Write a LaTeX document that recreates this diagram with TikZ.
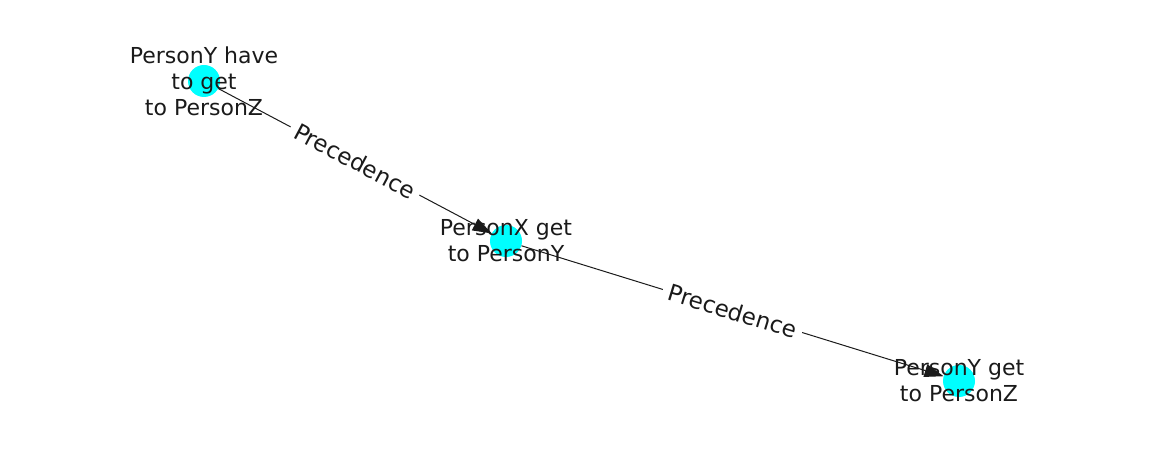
\documentclass[tikz,border=0pt]{standalone}
\usepackage{fontspec}
\setmainfont{DejaVu Sans}
\usetikzlibrary{arrows.meta}
\definecolor{nodecyan}{RGB}{0,255,255}
\definecolor{ink}{RGB}{26,26,26}
\begin{document}
\begin{tikzpicture}[x=1pt,y=-1pt,
  dot/.style={circle,fill=nodecyan,minimum size=32pt,inner sep=0pt},
  lbl/.style={align=center,font=\fontsize{22}{26}\selectfont,text=ink,inner sep=0pt},
  edge/.style={draw=ink,line width=1pt,-{Triangle[length=19pt,width=13pt]}},
  elbl/.style={fill=white,font=\fontsize{23}{26}\selectfont,text=ink,inner xsep=6pt,inner ysep=3pt,sloped}]
\useasboundingbox (0,0) rectangle (1162,462);
\node[dot] (a) at (204,81) {};
\node[dot] (b) at (506,241) {};
\node[dot] (c) at (959,381) {};
\node[lbl] (ta) at (204,81) {PersonY have\\to get\\to PersonZ};
\node[lbl] (tb) at (506,241) {PersonX get\\to PersonY};
\node[lbl] (tc) at (959,381) {PersonY get\\to PersonZ};
\draw[edge] (a) -- node[elbl,pos=0.5] {Precedence} (b);
\draw[edge] (b) -- node[elbl,pos=0.5] {Precedence} (c);
\end{tikzpicture}
\end{document}
